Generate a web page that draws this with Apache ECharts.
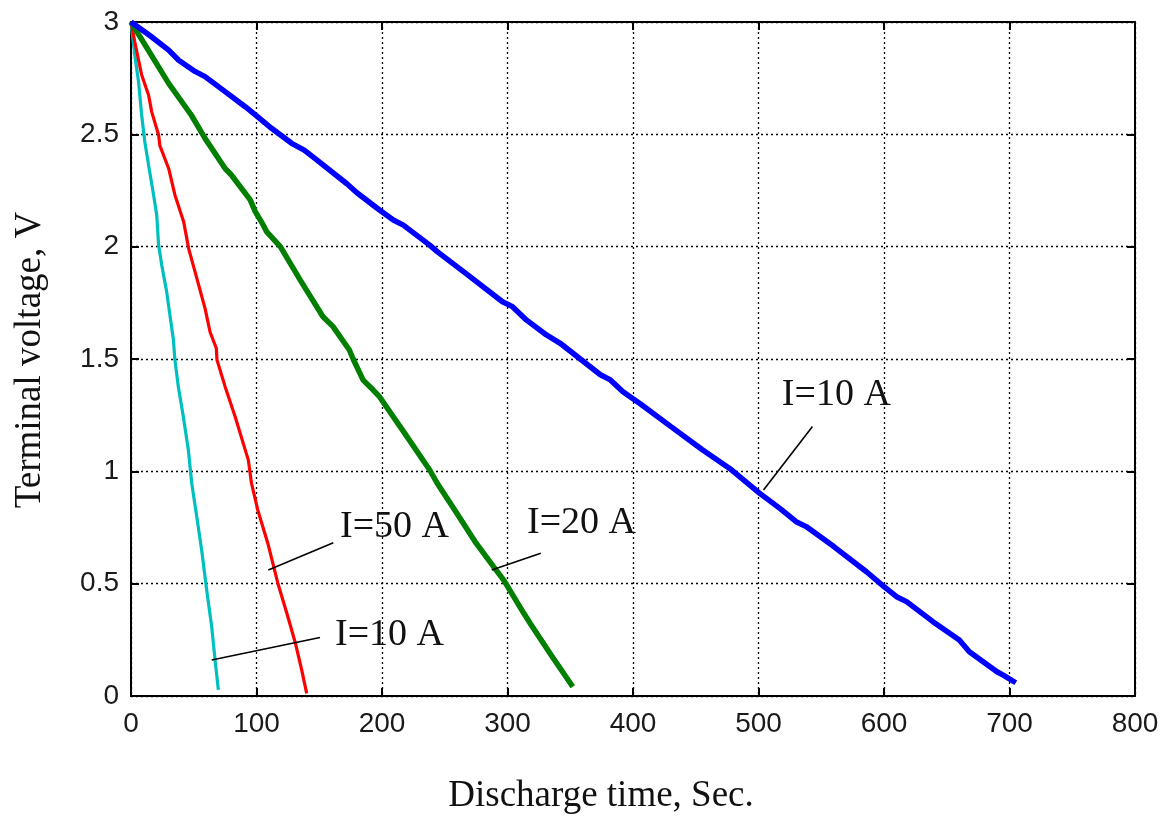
<!DOCTYPE html>
<html>
<head>
<meta charset="utf-8">
<script src="https://cdn.jsdelivr.net/npm/echarts@6/dist/echarts.min.js"></script>
<style>html,body{margin:0;padding:0;background:#fff}#c{width:1164px;height:817px}</style>
</head>
<body>
<div id="c"></div>
<script>
// ---- data (time in s, voltage in V) ----
const xTicks = [0,100,200,300,400,500,600,700,800];
const yTicks = [0,0.5,1,1.5,2,2.5,3];

const blue10A = [[0,3],[15,2.94],[30,2.875],[38,2.83],[51,2.78],[59,2.757],[75,2.69],[91,2.623],[101,2.578],[112,2.527],[128,2.46],[138,2.43],[148,2.386],[172,2.28],[180,2.24],[198,2.163],[209,2.119],[217,2.096],[238,2.007],[244,1.978],[267,1.88],[296,1.755],[304,1.733],[315,1.674],[331,1.607],[342,1.57],[374,1.43],[382,1.407],[392,1.354],[406,1.30],[430,1.20],[455,1.097],[477,1.013],[501,0.902],[517,0.835],[530,0.776],[538,0.754],[560,0.665],[586,0.553],[600,0.487],[610,0.442],[618,0.42],[639,0.331],[660,0.249],[668,0.197],[690,0.108],[695,0.093],[705,0.059]];

const green20A = [[0,3],[30,2.727],[48,2.586],[59,2.482],[75,2.348],[80,2.319],[95,2.208],[99,2.156],[105,2.10],[108,2.067],[119,2.0],[135,1.85],[153,1.688],[161,1.644],[174,1.54],[177,1.50],[185,1.406],[193,1.362],[198,1.332],[218,1.17],[238,1.006],[244,0.947],[260,0.81],[275,0.68],[289,0.575],[297,0.516],[313,0.368],[318,0.324],[335,0.18],[352,0.041]];

const red50A = [[0,3],[3,2.912],[8.5,2.764],[14,2.675],[16.5,2.60],[22,2.497],[23,2.45],[30,2.348],[35,2.23],[42,2.11],[46,1.99],[51,1.889],[59,1.725],[63,1.62],[68,1.548],[68.5,1.496],[75,1.377],[83,1.243],[93.5,1.05],[96,0.947],[101,0.828],[109,0.68],[117,0.502],[125,0.353],[131,0.235],[136,0.116],[140,0.012]];

const cyan10A = [[0,3],[3,2.853],[6,2.734],[8.5,2.586],[11,2.467],[14,2.363],[18,2.23],[20.5,2.141],[22,2.007],[24.5,1.918],[28.4,1.80],[31,1.696],[33.7,1.59],[35,1.496],[37.7,1.377],[41.7,1.243],[45.7,1.095],[48.4,0.947],[52.4,0.798],[56.3,0.65],[60.3,0.472],[64.3,0.308],[67,0.16],[69.6,0.027]];

// annotation leader lines and label anchors (data coords)
const leaderBlue  = [[504,0.917],[543,1.20]];
const leaderGreen = [[287.4,0.561],[326.5,0.635]];
const leaderRed   = [[109.4,0.561],[161.2,0.682]];
const leaderCyan  = [[64.3,0.16],[150.6,0.26]];
const labelTexts  = ['I=10 A','I=20 A','I=50 A','I=10 A'];
const labelPos    = [[562,1.34],[359,0.77],[210,0.752],[206,0.27]];

const xTitle = 'Discharge time, Sec.';
const yTitle = 'Terminal voltage, V';

// ---- chart ----
const chart = echarts.init(document.getElementById('c'), null, {renderer:'canvas'});
const axisCommon = {
  type:'value',
  axisLine:{show:true,onZero:false,lineStyle:{color:'#000',width:2}},
  axisTick:{show:true,inside:true,length:8,lineStyle:{color:'#000',width:2}},
  splitLine:{show:false}
};
function leader(d){
  return {type:'line',data:d,symbol:'none',silent:true,lineStyle:{color:'#000',width:1.6},z:5,animation:false};
}
function curve(d,color,w){
  return {type:'line',data:d,symbol:'none',lineStyle:{color:color,width:w},z:4,animation:false};
}
chart.setOption({
  animation:false,
  backgroundColor:'#fff',
  grid:{left:131,top:22,right:29,bottom:121,containLabel:false},
  xAxis:[
    Object.assign({},axisCommon,{position:'bottom',min:0,max:800,interval:100,
      axisLabel:{show:true,margin:14,color:'#1a1a1a',fontFamily:'Liberation Sans',fontSize:28},
      splitLine:{show:true,lineStyle:{color:'#000',type:[2,3],width:1.3}}}),
    Object.assign({},axisCommon,{position:'top',min:0,max:800,interval:100,axisLabel:{show:false}})
  ],
  yAxis:[
    Object.assign({},axisCommon,{position:'left',min:0,max:3,interval:0.5,
      axisLabel:{show:true,margin:12,color:'#1a1a1a',fontFamily:'Liberation Sans',fontSize:28},
      splitLine:{show:true,lineStyle:{color:'#000',type:[2,3],width:1.3}}}),
    Object.assign({},axisCommon,{position:'right',min:0,max:3,interval:0.5,axisLabel:{show:false}})
  ],
  graphic:[
    {type:'text',position:[601,796],style:{text:xTitle,font:'37px "Liberation Serif"',fill:'#111',textAlign:'center',textVerticalAlign:'middle'}},
    {type:'text',rotation:Math.PI/2,position:[30,360],style:{text:yTitle,font:'37px "Liberation Serif"',fill:'#111',textAlign:'center',textVerticalAlign:'middle'}}
  ],
  series:[
    curve(cyan10A,'#00BFBF',3.2),
    curve(red50A,'#FF0000',3.2),
    curve(green20A,'#007F00',5.5),
    curve(blue10A,'#0000FF',5.5),
    leader(leaderBlue),leader(leaderGreen),leader(leaderRed),leader(leaderCyan),
    {type:'scatter',symbolSize:0,silent:true,animation:false,z:6,itemStyle:{opacity:1},
      data:labelPos.map((p,i)=>({value:p,label:{show:true,formatter:labelTexts[i],position:'inside',
        fontFamily:'Liberation Serif',fontSize:38,color:'#111',opacity:1,textBorderWidth:0}}))}
  ]
});
</script>
</body>
</html>
